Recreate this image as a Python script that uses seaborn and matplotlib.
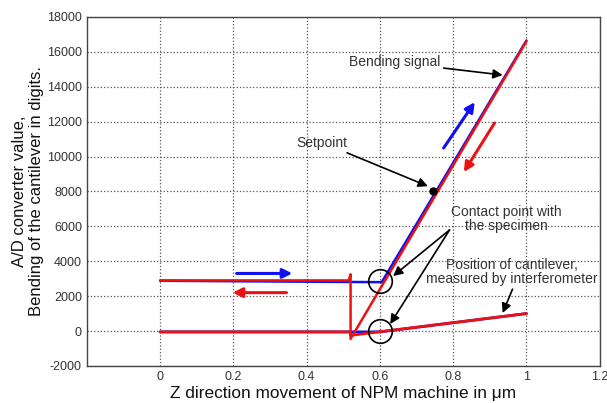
import matplotlib
matplotlib.use("Agg")
import matplotlib.pyplot as plt
import seaborn as sns
import pandas as pd

sns.set_style("white")
plt.rcParams['font.family'] = ['Liberation Sans', 'DejaVu Sans']
plt.rcParams['axes.unicode_minus'] = False

# Approach (blue) - bending signal
app_bend_x = [0.0, 0.605, 1.0]
app_bend_y = [2880, 2800, 16650]
# Retract (red) - bending signal
ret_bend_x = [1.0, 0.52, 0.52, 0.515, 0.0]
ret_bend_y = [16600, -450, 3250, 2900, 2900]
# Approach (blue) - interferometer position
app_pos_x = [0.0, 0.6, 1.0]
app_pos_y = [-50, -50, 1000]
# Retract (red) - interferometer position
ret_pos_x = [1.0, 0.52, 0.52, 0.0]
ret_pos_y = [1000, -250, -50, -50]
# Setpoint
setpoint = (0.745, 8050)
contact_points = [(0.6, 2850), (0.6, 0)]

xticks = [0, 0.2, 0.4, 0.6, 0.8, 1, 1.2]
xticklabels = ["0", "0.2", "0.4", "0.6", "0.8", "1", "1.2"]
yticks = list(range(-2000, 18001, 2000))

fig = plt.figure(figsize=(6.07, 4.03), dpi=100)
ax = fig.add_axes([0.143, 0.092, 0.845, 0.866])

blue = "#1010ee"
red = "#ee1111"
common = dict(sort=False, estimator=None, ax=ax)
sns.lineplot(x=app_bend_x, y=app_bend_y, color=blue, lw=1.8, **common)
sns.lineplot(x=app_pos_x, y=app_pos_y, color=blue, lw=2.0, **common)
sns.lineplot(x=ret_bend_x, y=ret_bend_y, color=red, lw=1.8, **common)
sns.lineplot(x=ret_pos_x, y=ret_pos_y, color=red, lw=2.0, **common)
ax.plot(*setpoint, 'o', color='black', ms=5, zorder=5)

for cx, cy in contact_points:
    ax.plot(cx, cy, 'o', mfc='none', mec='black', ms=17, mew=1.2, zorder=5)

ax.set_xlim(-0.2, 1.2)
ax.set_ylim(-2000, 18000)
ax.set_xticks(xticks)
ax.set_xticklabels(xticklabels)
ax.set_yticks(yticks)
ax.tick_params(labelsize=9, colors='#333333', direction='in', length=3)
ax.grid(True, linestyle=':', color='#555555', lw=0.9)
for s in ax.spines.values():
    s.set_color('#444444')
    s.set_linewidth(1.0)

ax.set_xlabel("Z direction movement of NPM machine in \u03bcm", fontsize=12.4, color='#111111', labelpad=2)
ax.set_ylabel("A/D converter value,\nBending of the cantilever in digits.", fontsize=12, color='#111111', labelpad=2)

ann_kw = dict(fontsize=10, color='#333333')
arr = dict(arrowstyle='-|>', color='black', lw=1.2, mutation_scale=14, shrinkA=0, shrinkB=0)
ax.annotate("Bending signal", xy=(0.935, 14670), xytext=(0.765, 15400), ha='right', va='center',
            arrowprops=arr, **ann_kw)
ax.annotate("Setpoint", xy=(0.731, 8300), xytext=(0.512, 10800), ha='right', va='center',
            arrowprops=arr, **ann_kw)
ax.text(0.945, 6420, "Contact point with\nthe specimen", ha='center', va='center', linespacing=1.0, **ann_kw)
ax.annotate("", xy=(0.636, 3150), xytext=(0.79, 5790), arrowprops=arr)
ax.annotate("", xy=(0.628, 400), xytext=(0.79, 5790), arrowprops=arr)
ax.text(0.96, 3380, "Position of cantilever,\nmeasured by interferometer", ha='center', va='center', linespacing=1.0, **ann_kw)
ax.annotate("", xy=(0.935, 1030), xytext=(0.962, 2400), arrowprops=arr)

barr_b = dict(arrowstyle='-|>', color=blue, lw=2.2, mutation_scale=14, shrinkA=0, shrinkB=0)
barr_r = dict(arrowstyle='-|>', color=red, lw=2.2, mutation_scale=14, shrinkA=0, shrinkB=0)
ax.annotate("", xy=(0.361, 3300), xytext=(0.209, 3300), arrowprops=barr_b)
ax.annotate("", xy=(0.198, 2200), xytext=(0.345, 2200), arrowprops=barr_r)
ax.annotate("", xy=(0.859, 13120), xytext=(0.774, 10490), arrowprops=barr_b)
ax.annotate("", xy=(0.829, 9110), xytext=(0.913, 11920), arrowprops=barr_r)

fig.savefig("out.png", dpi=100)
